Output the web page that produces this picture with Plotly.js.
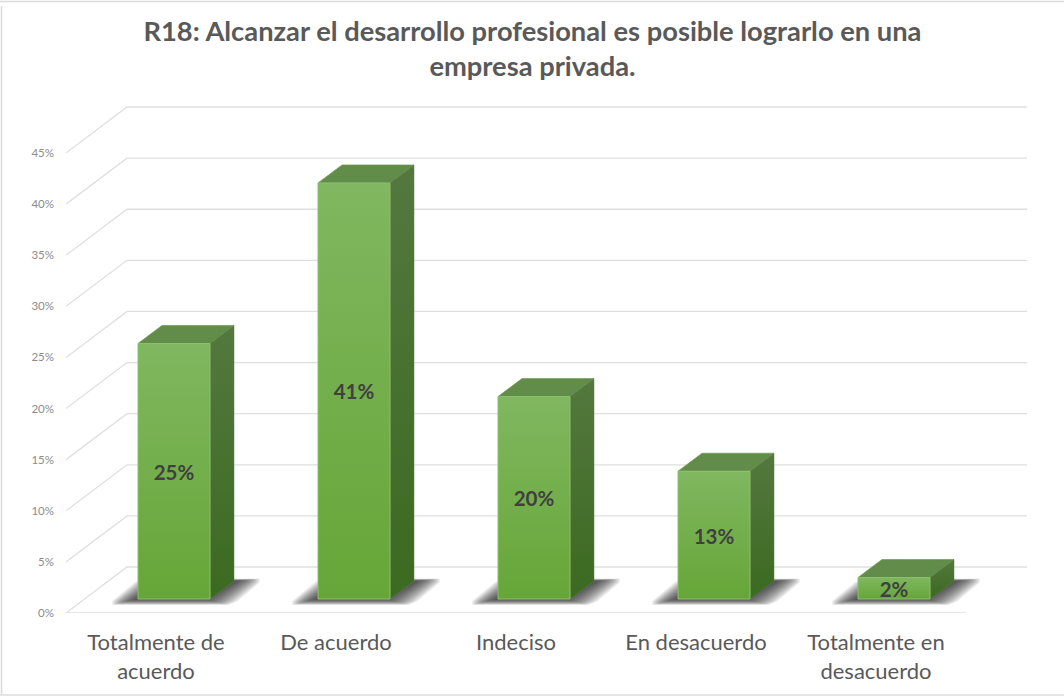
<!DOCTYPE html>
<html><head><meta charset="utf-8">
<script src="https://cdn.plot.ly/plotly-3.0.1.min.js"></script>
<style>html,body{margin:0;padding:0;background:#fff}#c{width:1064px;height:696px}</style>
</head><body><div id="c"></div>
<script>
const categories = ['Totalmente de<br>acuerdo','De acuerdo','Indeciso','En desacuerdo','Totalmente en<br>desacuerdo'];
const values = [25.0, 40.7, 19.8, 12.5, 2.1];
const valueLabels = ['25%','41%','20%','13%','2%'];
const yTicks = [0,5,10,15,20,25,30,35,40,45];
const titleText = 'R18: Alcanzar el desarrollo profesional es posible lograrlo en una<br>empresa privada.';

const FONT = 'Lato, Carlito, sans-serif';
// depth of the 3D box, in axis units
const wallDx = 61/180, backDy = 4.5;
const barW = 0.4, barDx = 24/180, barDy = 1.76, floorDx = 0.1, floorDy = 1.37;

const traces = [];
yTicks.forEach(t => {
  traces.push({x:[0,wallDx,5+wallDx], y:[t,t+backDy,t+backDy], mode:'lines',
    line:{color:'#dfdfdf',width:1.3}, hoverinfo:'skip', showlegend:false});
});
traces.push({x:[0,5], y:[0,0], mode:'lines', line:{color:'#dfdfdf',width:1.3}, hoverinfo:'skip', showlegend:false});

function poly(xs, ys, extra){
  traces.push(Object.assign({x:xs.concat(xs[0]), y:ys.concat(ys[0]), mode:'lines', fill:'toself',
    hoverinfo:'skip', showlegend:false}, extra));
}
function chamfer(xs, ys, fLong, fShort){
  const ox=[], oy=[], n=xs.length;
  for(let k=0;k<n;k++){
    const p=(k+n-1)%n, q=(k+1)%n;
    const fp = (k%2===0)? fShort : fLong, fq = (k%2===0)? fLong : fShort;
    ox.push(xs[k]+(xs[p]-xs[k])*fp, xs[k]+(xs[q]-xs[k])*fq);
    oy.push(ys[k]+(ys[p]-ys[k])*fp, ys[k]+(ys[q]-ys[k])*fq);
  }
  return [ox,oy];
}
values.forEach((v,i) => {
  const x0 = i + 0.5 + floorDx - barW/2, x1 = x0 + barW, y0 = floorDy, y1 = floorDy + v;
  const steps = 26;
  for (let s=0;s<steps;s++){
    const g = (steps-1-s)/(steps-1);
    const ex = 0.15*g, ey = 0.02 + 0.55*g;
    const [ox,oy] = chamfer(
      [x0-ex-0.02, x1+ex-0.02, x1+barDx+ex+0.02, x0+barDx-ex+0.02],
      [y0-ey-0.02, y0-ey-0.02, y0+barDy+ey*0.4, y0+barDy+ey*0.4],
      0.035*g, 0.14*g);
    poly(ox, oy, {fillcolor:'rgba(35,35,35,0.052)', line:{width:0}});
  }
  poly([x0,x1,x1+barDx,x0+barDx],[y1,y1,y1+barDy,y1+barDy],
       {fillcolor:'#628c49', line:{color:'#6f9a55',width:0.7}});
  poly([x1,x1+barDx,x1+barDx,x1],[y0,y0+barDy,y1+barDy,y1],
       {line:{color:'#5a7f45',width:0.5},
        fillgradient:{type:'vertical',colorscale:[[0,'#3b6a20'],[1,'#54783f']]}});
  poly([x0,x1,x1,x0],[y0,y0,y1,y1],
       {line:{color:'#8dbf70',width:1},
        fillgradient:{type:'vertical',colorscale:[[0,'#66a637'],[1,'#80b760']]}});
});
traces.push({
  x: values.map((v,i)=> i+0.5+floorDx),
  y: values.map(v=> floorDy + v/2 - 0.33),
  text: valueLabels, mode:'text', textposition:'middle center',
  textfont:{family:FONT,size:20.5,color:'#404040',weight:700},
  hoverinfo:'skip', showlegend:false, cliponaxis:false
});

const px = v => v/961, py = v => v/507;
const frameLine = (x0,y0,x1,y1) => ({type:'line',xref:'paper',yref:'paper',x0,y0,x1,y1,
  line:{color:'#dcdcdc',width:1.6},layer:'below'});
const layout = {
  width:1064, height:696, paper_bgcolor:'#fff', plot_bgcolor:'rgba(0,0,0,0)',
  margin:{l:66,r:37,t:106,b:83,pad:0}, showlegend:false,
  title:{text:titleText, x:0.4854, xref:'paper', xanchor:'center', y:0.9415, yanchor:'top',
         font:{family:FONT,size:27.3,color:'#595959',weight:700}},
  xaxis:{type:'linear', range:[0,5+wallDx], showgrid:false, zeroline:false, showline:false,
         tickmode:'array', tickvals:categories.map((c,i)=>i+0.5), ticktext:categories,
         ticks:'', tickfont:{family:FONT,size:22,color:'#595959'}, ticklabelstandoff:14},
  yaxis:{type:'linear', range:[0,49.6], showgrid:false, zeroline:false, showline:false,
         tickmode:'array', tickvals:yTicks, ticktext:yTicks.map(t=>t+'%'), ticks:'',
         tickfont:{family:FONT,size:11.5,color:'#8c8c8c'}, ticklabelstandoff:11},
  shapes:[
    frameLine(px(-64.5),py(-82),px(-64.5),py(505.5)+0.2),
    frameLine(px(-66),1+py(104.5),px(998),1+py(104.5)),
    frameLine(px(-66),py(-82),px(998),py(-82))
  ]
};
Plotly.newPlot('c', traces, layout, {displayModeBar:false, staticPlot:true});
</script></body></html>
